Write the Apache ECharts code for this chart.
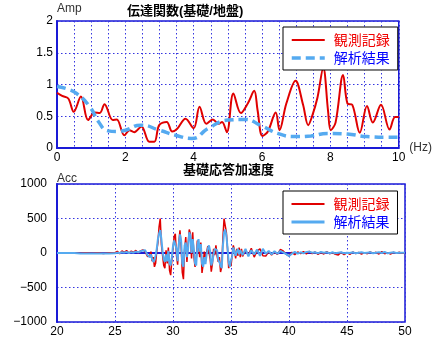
<!DOCTYPE html>
<html>
<head>
<meta charset="utf-8">
<script src="https://cdn.jsdelivr.net/npm/echarts@6/dist/echarts.min.js"></script>
<style>
  html, body { margin: 0; padding: 0; background: #fff; }
  #chart { width: 433px; height: 342px; }
</style>
</head>
<body>
<div id="chart"></div>
<script>
// 伝達関数 観測記録 (Hz, Amp)
const obsFreq = [0, 0.15, 0.33, 0.49, 0.7, 0.91, 1.1, 1.25, 1.39, 1.63, 1.75, 1.97, 2.12, 2.26, 2.47, 2.7, 2.85, 2.99, 3.21, 3.37,
  3.51, 3.76, 4.0, 4.17, 4.37, 4.56, 4.73, 4.83, 4.97, 5.16, 5.38, 5.59, 5.77, 5.87, 6.01, 6.17, 6.4, 6.51, 6.71, 6.98,
  7.2, 7.35, 7.47, 7.62, 7.79, 7.93, 8.01, 8.15, 8.37, 8.5, 8.64, 8.86, 9.07, 9.24, 9.48, 9.73, 9.89, 10]
const obsAmp = [0.87, 0.82, 0.78, 0.57, 0.81, 0.44, 0.56, 0.55, 0.69, 0.44, 0.45, 0.2, 0.28, 0.25, 0.34, 0.1, 0.1, 0.36, 0.41, 0.26,
  0.3, 0.46, 0.31, 0.65, 0.38, 0.45, 0.38, 0.41, 0.25, 0.86, 0.55, 0.71, 0.9, 0.59, 0.19, 0.26, 0.56, 0.28, 0.7, 1.06,
  0.68, 0.36, 0.51, 0.79, 1.26, 0.59, 0.28, 0.4, 1.15, 0.7, 0.68, 0.24, 0.66, 0.4, 0.68, 0.29, 0.49, 0.49]

// 伝達関数 解析結果
const simFreq = [0, 0.3, 0.57, 0.96, 1.22, 1.49, 1.75, 2.0, 2.45, 3.0, 3.47, 3.95, 4.43, 5.0, 5.5, 5.98, 6.46, 6.95, 7.43, 7.91, 8.49, 9.07, 9.65, 10]
const simAmp = [0.97, 0.93, 0.86, 0.65, 0.41, 0.27, 0.26, 0.28, 0.36, 0.28, 0.2, 0.15, 0.31, 0.44, 0.45, 0.35, 0.23, 0.18, 0.19, 0.23, 0.22, 0.18, 0.17, 0.17]

// 基礎応答加速度 時刻 (s)
function steps(a, b, h) {
  const out = []
  for (let t = a; t < b - 1e-9; t += h) out.push(Math.round(t * 100) / 100)
  return out
}
const accTime = [].concat(steps(20, 25, 0.5), steps(25, 28, 0.2), steps(28, 36, 0.1), steps(36, 50.01, 0.25))

const obsAcc = [
  // 20 - 24.5
  0, 0, 0, 0, -5, 3, -4, 2, -6, 4,
  // 25 - 27.8
  5, 25, -10, 30, 8, 35, -5, 28, 10, 38, 0, 30, 45, 20, -50,
  // 28.0 - 35.9
  -40, 20, -120, -60, -200, -150, 30, 150, 380, 500,
  120, -30, -180, -220, 40, -150, 80, -250, -320, -100,
  60, 240, 280, -40, -170, 150, 330, 100, -280, -380,
  50, 230, -130, 120, 340, 280, -80, 300, -50, -200,
  -100, 180, 140, -60, 150, -290, -160, 20, -100, 10,
  100, 120, -80, -270, -150, 60, -30, 110, -40, -130,
  -60, -275, -200, 210, 497, 480, 300, 60, -220, -150,
  -190, -30, 110, 40, -80, 60, -40, 80, -60, 60,
  // 36 - 50
  -50, 40, -30, 70, -60, 30, 60, -40, -45, 20, -30, 15, -20, 50, 30, -20,
  -40, 10, -25, 15, -10, 20, -15, 25, -10, 15, -20, 10, -15, 20, -10, 5,
  -20, -30, 10, -25, 5, -20, 15, -10, 10, -15, 5, -10, 15, -5, 10, -15,
  20, -10, 5, -15, 10, -5, 10, -5, 0
]

const simAcc = [
  // 20 - 24.5
  0, 0, 0, 0, -8, -8, -8, -8, -8, -6,
  // 25 - 27.8
  -5, 5, 0, 10, 5, 15, 0, 12, 5, 20, 10, 25, 35, 40, -30,
  // 28.0 - 35.9
  -60, -20, -90, -130, -100, -40, 60, 200, 280, 330,
  200, 20, -90, -130, -20, -120, 30, -150, -180, -60,
  100, 180, 200, 60, -120, 130, 270, 180, -150, -200,
  110, 150, -60, 60, 300, 250, 0, 200, 50, -150,
  -180, 100, 200, 20, 130, -150, -200, -60, -160, -20,
  60, 110, 30, -180, -120, -20, 60, 80, 40, -100,
  -130, -180, -220, 100, 300, 340, 250, 80, -130, -200,
  -100, -50, 80, 100, -40, 20, 60, -20, 40, 50,
  // 36 - 50
  -30, 60, -50, 40, -20, 50, -40, 60, -10, 30, -20, 25, -10, 30, 10, -15,
  -45, -10, 15, -10, 10, -5, 15, 20, 5, 10, -5, 15, 5, 10, -5, 10,
  -5, 5, 10, -5, 5, 0, 10, -5, 5, 10, 0, 5, 10, -5, 5, 10,
  0, 15, -5, 5, 10, 0, 5, 5, 5
]

const ampTicks = [0, 0.5, 1, 1.5, 2]
const accTicks = [-1000, -500, 0, 500, 1000]

const RED = '#e00000'
const BLUE = '#55aaf0'
const FRAME = '#1a1ad6'
const GRIDLINE = '#3535e0'
const labelFont = { color: '#000', fontSize: 12, fontFamily: 'Liberation Sans' }
const nameFont = { color: '#333', fontSize: 12, fontFamily: 'Liberation Sans' }
const titleFont = { fontSize: 13, fontWeight: 'bold', color: '#000', fontFamily: 'Liberation Sans, Noto Sans CJK JP' }
const dotted = { color: GRIDLINE, width: 1, type: [1.5, 2.5] }

const myChart = echarts.init(document.getElementById('chart'), null, { renderer: 'canvas' })

function legendOf(top, blueLine) {
  return {
    left: 283,
    top: top,
    width: 103,
    orient: 'vertical',
    selectedMode: false,
    backgroundColor: '#fff',
    borderColor: '#000',
    borderWidth: 1,
    padding: [6, 8, 5, 7],
    itemWidth: 33,
    itemHeight: 14,
    itemGap: 4,
    textStyle: { fontSize: 14, fontFamily: 'Noto Sans CJK JP', padding: [0, 0, 0, 4] },
    data: [
      {
        name: '観測記録',
        textStyle: { color: '#f00000' },
        itemStyle: { opacity: 0 },
        lineStyle: { color: RED, width: 2, type: 'solid' },
      },
      {
        name: '解析結果',
        textStyle: { color: '#0000ff' },
        itemStyle: { opacity: 0 },
        lineStyle: blueLine,
      },
    ],
  }
}

const option = {
  animation: false,
  backgroundColor: '#fff',
  title: [
    { text: '伝達関数(基礎/地盤)', left: 127, top: 5, padding: 0, textStyle: titleFont },
    { text: '基礎応答加速度', left: 183, top: 164, padding: 0, textStyle: titleFont },
  ],
  legend: [
    legendOf(27, { color: BLUE, width: 3.5, type: [9, 5] }),
    legendOf(191, { color: BLUE, width: 3, type: 'solid' }),
  ],
  grid: [
    { left: 57, right: 31, top: 21, height: 127, show: true, borderColor: FRAME, borderWidth: 1.5, backgroundColor: '#fff' },
    { left: 57, right: 28, top: 184, height: 138, show: true, borderColor: FRAME, borderWidth: 1.5, backgroundColor: '#fff' },
  ],
  xAxis: [
    {
      gridIndex: 0,
      type: 'value',
      min: 0,
      max: 10,
      interval: 2,
      name: '(Hz)',
      nameLocation: 'end',
      nameGap: 4,
      nameTextStyle: Object.assign({ verticalAlign: 'middle', padding: [0, 0, 10, 0] }, nameFont),
      axisLine: { show: true, lineStyle: { color: FRAME, width: 2 } },
      axisTick: { show: false },
      axisLabel: Object.assign({ margin: 4 }, labelFont),
      splitLine: { show: true, lineStyle: dotted },
      minorTick: { show: false, splitNumber: 4 },
      minorSplitLine: { show: true, lineStyle: dotted },
    },
    {
      gridIndex: 1,
      type: 'value',
      min: 20,
      max: 50,
      interval: 5,
      axisLine: { show: true, lineStyle: { color: FRAME, width: 2 } },
      axisTick: { show: false },
      axisLabel: Object.assign({ margin: 4 }, labelFont),
      splitLine: { show: true, lineStyle: dotted },
    },
  ],
  yAxis: [
    {
      gridIndex: 0,
      type: 'value',
      min: ampTicks[0],
      max: ampTicks[ampTicks.length - 1],
      interval: 0.5,
      name: 'Amp',
      nameLocation: 'end',
      nameGap: 7,
      nameTextStyle: Object.assign({ align: 'left', verticalAlign: 'middle' }, nameFont),
      axisLine: { show: true, lineStyle: { color: FRAME, width: 2 } },
      axisTick: { show: false },
      axisLabel: Object.assign({ margin: 4 }, labelFont),
      splitLine: { show: true, lineStyle: dotted },
    },
    {
      gridIndex: 1,
      type: 'value',
      min: accTicks[0],
      max: accTicks[accTicks.length - 1],
      interval: 500,
      name: 'Acc',
      nameLocation: 'end',
      nameGap: 5,
      nameTextStyle: Object.assign({ align: 'left', verticalAlign: 'middle' }, nameFont),
      axisLine: { show: true, lineStyle: { color: FRAME, width: 2 } },
      axisTick: { show: false },
      axisLabel: Object.assign({ margin: 10, formatter: (v) => String(v).replace('-', '\u2212') }, labelFont),
      splitLine: { show: true, lineStyle: dotted },
    },
  ],
  series: [
    {
      name: '観測記録',
      type: 'line',
      xAxisIndex: 0,
      yAxisIndex: 0,
      data: obsFreq.map((f, i) => [f, obsAmp[i]]),
      smooth: 0.35,
      symbol: 'none',
      lineStyle: { color: RED, width: 2 },
      itemStyle: { color: RED },
    },
    {
      name: '解析結果',
      type: 'line',
      xAxisIndex: 0,
      yAxisIndex: 0,
      data: simFreq.map((f, i) => [f, simAmp[i]]),
      smooth: true,
      symbol: 'none',
      lineStyle: { color: BLUE, width: 3.5, type: [9, 5] },
      itemStyle: { color: BLUE },
    },
    {
      name: '観測記録',
      type: 'line',
      xAxisIndex: 1,
      yAxisIndex: 1,
      data: accTime.map((t, i) => [t, obsAcc[i]]),
      symbol: 'none',
      lineStyle: { color: RED, width: 1.5 },
      itemStyle: { color: RED },
    },
    {
      name: '解析結果',
      type: 'line',
      xAxisIndex: 1,
      yAxisIndex: 1,
      data: accTime.map((t, i) => [t, simAcc[i]]),
      symbol: 'none',
      lineStyle: { color: BLUE, width: 2 },
      itemStyle: { color: BLUE },
    },
  ],
}

myChart.setOption(option)
</script>
</body>
</html>
